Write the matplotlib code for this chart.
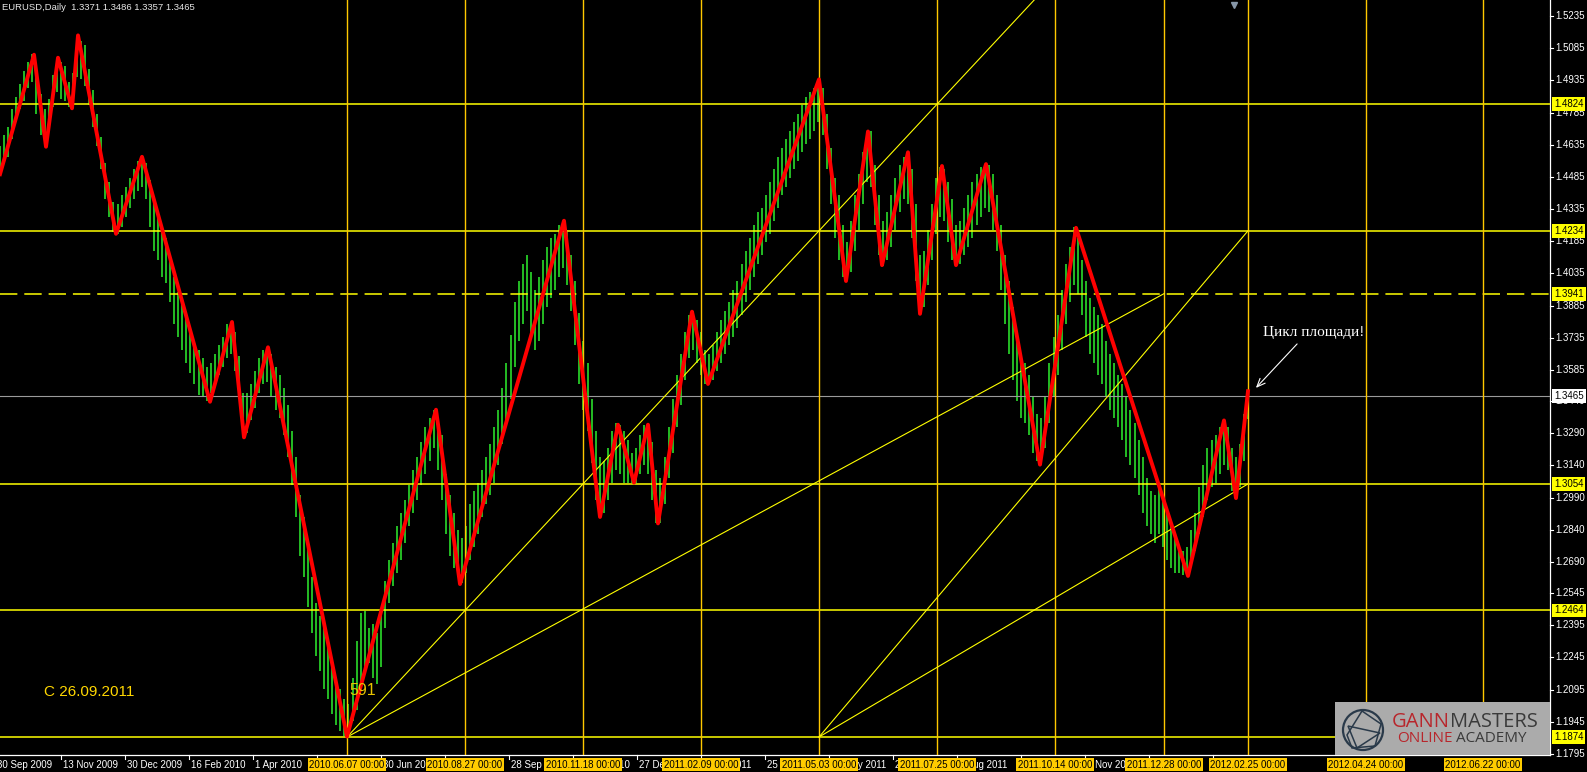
import numpy as np
import matplotlib
matplotlib.use("Agg")
import matplotlib.pyplot as plt
from matplotlib.patches import Rectangle, Circle, Polygon

plt.rcParams['lines.scale_dashes'] = False
plt.rcParams['font.family'] = ['Liberation Sans', 'DejaVu Sans']

# ---------------- data ----------------
SYMBOL_TEXT = "EURUSD,Daily  1.3371 1.3486 1.3357 1.3465"
FIRST_BAR, LAST_BAR = 0, 624          # bar index of first / last drawn bar

HIGHS = [
    1.463, 1.468, 1.472, 1.480, 1.486, 1.492, 1.498, 1.502, 1.506, 1.500,
    1.487, 1.480, 1.485, 1.496, 1.504, 1.502, 1.500, 1.493, 1.497, 1.514,
    1.512, 1.510, 1.499, 1.489, 1.478, 1.467, 1.455, 1.446, 1.437, 1.436,
    1.440, 1.444, 1.448, 1.452, 1.456, 1.458, 1.455, 1.447, 1.436, 1.430,
    1.424, 1.420, 1.412, 1.402, 1.395, 1.392, 1.385, 1.378, 1.372, 1.368,
    1.364, 1.360, 1.362, 1.366, 1.370, 1.374, 1.380, 1.381, 1.376, 1.365,
    1.348, 1.348, 1.352, 1.358, 1.364, 1.368, 1.369, 1.366, 1.360, 1.356,
    1.350, 1.342, 1.330, 1.318, 1.300, 1.290, 1.276, 1.262, 1.250, 1.244,
    1.238, 1.230, 1.222, 1.215, 1.210, 1.205, 1.203, 1.215, 1.232, 1.245,
    1.246, 1.238, 1.240, 1.236, 1.246, 1.260, 1.270, 1.278, 1.286, 1.292,
    1.298, 1.305, 1.312, 1.318, 1.325, 1.332, 1.336, 1.340, 1.336, 1.328,
    1.310, 1.300, 1.292, 1.284, 1.280, 1.286, 1.296, 1.302, 1.306, 1.312,
    1.318, 1.324, 1.332, 1.340, 1.350, 1.362, 1.375, 1.390, 1.400, 1.408,
    1.412, 1.404, 1.396, 1.402, 1.410, 1.416, 1.420, 1.422, 1.426, 1.428,
    1.424, 1.412, 1.400, 1.385, 1.372, 1.362, 1.345, 1.330, 1.318, 1.316,
    1.322, 1.330, 1.334, 1.333, 1.330, 1.326, 1.320, 1.322, 1.328, 1.333,
    1.333, 1.325, 1.312, 1.308, 1.318, 1.332, 1.345, 1.356, 1.366, 1.376,
    1.384, 1.386, 1.382, 1.376, 1.368, 1.366, 1.370, 1.376, 1.382, 1.386,
    1.390, 1.396, 1.400, 1.408, 1.414, 1.420, 1.426, 1.432, 1.434, 1.440,
    1.446, 1.452, 1.458, 1.462, 1.466, 1.470, 1.474, 1.478, 1.482, 1.486,
    1.488, 1.490, 1.494, 1.490, 1.478, 1.462, 1.448, 1.440, 1.426, 1.418,
    1.428, 1.440, 1.450, 1.460, 1.468, 1.470, 1.454, 1.440, 1.428, 1.432,
    1.440, 1.448, 1.454, 1.458, 1.460, 1.452, 1.436, 1.412, 1.414, 1.424,
    1.436, 1.448, 1.453, 1.452, 1.446, 1.438, 1.426, 1.428, 1.434, 1.440,
    1.446, 1.450, 1.453, 1.454, 1.454, 1.450, 1.440, 1.426, 1.412, 1.400,
    1.388, 1.376, 1.366, 1.362, 1.356, 1.346, 1.338, 1.336, 1.346, 1.362,
    1.374, 1.384, 1.396, 1.408, 1.416, 1.425, 1.420, 1.410, 1.400, 1.392,
    1.388, 1.384, 1.380, 1.372, 1.366, 1.362, 1.356, 1.352, 1.346, 1.340,
    1.334, 1.326, 1.318, 1.308, 1.302, 1.300, 1.304, 1.300, 1.292, 1.286,
    1.280, 1.276, 1.274, 1.276, 1.284, 1.292, 1.304, 1.314, 1.322, 1.326,
    1.328, 1.332, 1.335, 1.332, 1.322, 1.318, 1.324, 1.338, 1.3486,
]
LOWS = [
    1.450, 1.455, 1.458, 1.466, 1.474, 1.480, 1.484, 1.490, 1.493, 1.478,
    1.468, 1.463, 1.470, 1.481, 1.488, 1.485, 1.484, 1.481, 1.481, 1.495,
    1.494, 1.491, 1.482, 1.472, 1.463, 1.452, 1.438, 1.430, 1.423, 1.422,
    1.425, 1.430, 1.434, 1.438, 1.442, 1.444, 1.438, 1.425, 1.414, 1.410,
    1.402, 1.399, 1.390, 1.380, 1.374, 1.368, 1.362, 1.357, 1.352, 1.347,
    1.346, 1.344, 1.348, 1.351, 1.356, 1.360, 1.364, 1.366, 1.358, 1.345,
    1.328, 1.329, 1.335, 1.341, 1.348, 1.352, 1.353, 1.346, 1.340, 1.336,
    1.328, 1.318, 1.305, 1.290, 1.272, 1.262, 1.248, 1.236, 1.225, 1.218,
    1.210, 1.205, 1.198, 1.193, 1.190, 1.188, 1.1876, 1.195, 1.200, 1.210,
    1.218, 1.222, 1.215, 1.212, 1.220, 1.238, 1.250, 1.258, 1.264, 1.270,
    1.278, 1.286, 1.292, 1.298, 1.305, 1.310, 1.316, 1.322, 1.312, 1.298,
    1.282, 1.272, 1.266, 1.262, 1.259, 1.264, 1.270, 1.276, 1.282, 1.290,
    1.296, 1.300, 1.306, 1.314, 1.324, 1.335, 1.345, 1.360, 1.372, 1.380,
    1.386, 1.376, 1.368, 1.372, 1.380, 1.388, 1.392, 1.396, 1.402, 1.406,
    1.398, 1.386, 1.370, 1.352, 1.340, 1.330, 1.315, 1.298, 1.290, 1.292,
    1.298, 1.306, 1.312, 1.310, 1.306, 1.306, 1.306, 1.306, 1.310, 1.314,
    1.310, 1.298, 1.287, 1.287, 1.296, 1.308, 1.320, 1.332, 1.342, 1.354,
    1.364, 1.368, 1.362, 1.356, 1.352, 1.352, 1.354, 1.358, 1.362, 1.366,
    1.370, 1.374, 1.378, 1.384, 1.390, 1.396, 1.402, 1.408, 1.412, 1.418,
    1.422, 1.428, 1.434, 1.440, 1.444, 1.448, 1.452, 1.456, 1.460, 1.464,
    1.466, 1.470, 1.474, 1.468, 1.452, 1.436, 1.420, 1.410, 1.402, 1.400,
    1.404, 1.414, 1.424, 1.436, 1.446, 1.444, 1.426, 1.412, 1.407, 1.410,
    1.416, 1.424, 1.432, 1.438, 1.436, 1.420, 1.400, 1.385, 1.388, 1.398,
    1.410, 1.422, 1.430, 1.428, 1.418, 1.410, 1.407, 1.408, 1.412, 1.416,
    1.420, 1.426, 1.430, 1.434, 1.432, 1.424, 1.414, 1.396, 1.380, 1.366,
    1.354, 1.344, 1.336, 1.334, 1.328, 1.320, 1.316, 1.3144, 1.322, 1.334,
    1.346, 1.356, 1.368, 1.380, 1.390, 1.398, 1.394, 1.384, 1.374, 1.366,
    1.362, 1.356, 1.352, 1.346, 1.340, 1.336, 1.332, 1.326, 1.318, 1.314,
    1.308, 1.300, 1.292, 1.286, 1.282, 1.278, 1.282, 1.276, 1.270, 1.266,
    1.264, 1.264, 1.263, 1.2625, 1.268, 1.274, 1.282, 1.290, 1.298, 1.304,
    1.306, 1.310, 1.314, 1.312, 1.302, 1.299, 1.304, 1.316, 1.3357,
]

# ZigZag pivots (bar index, price)
ZZ_X = [0, 17, 23, 29, 36, 39, 58, 71, 105, 116, 122, 134, 173.5, 218, 230,
        282, 300, 309, 317, 324, 329, 346, 354, 409.5, 423, 434, 441, 454,
        460, 471, 478, 493, 520, 538, 594, 612, 618, 624]
ZZ_P = [1.4498, 1.5055, 1.4626, 1.5041, 1.4805, 1.5145, 1.4220, 1.4579,
        1.3437, 1.3809, 1.3271, 1.3691, 1.1876, 1.3400, 1.2587, 1.4281,
        1.2900, 1.3330, 1.3060, 1.3330, 1.2870, 1.3857, 1.3520, 1.4940,
        1.4000, 1.4697, 1.4074, 1.4600, 1.3847, 1.4536, 1.4074, 1.4545,
        1.3144, 1.4248, 1.2625, 1.3350, 1.2988, 1.3486]

SOLID_LEVELS = [1.4824, 1.4234, 1.3054, 1.2464, 1.1874]
DASHED_LEVEL = 1.3941
LAST_PRICE = 1.3465

CYCLE_X = [173.5, 232.5, 291.5, 350.5, 409.5, 468.5, 527.5, 582, 624, 683, 741.5]
CYCLE_LABELS = ['2010.06.07 00:00', '2010.08.27 00:00', '2010.11.18 00:00',
                '2011.02.09 00:00', '2011.05.03 00:00', '2011.07.25 00:00',
                '2011.10.14 00:00', '2011.12.28 00:00', '2012.02.25 00:00',
                '2012.04.24 00:00', '2012.06.22 00:00']

# fan lines: (from cycle, from price, through cycle, through price, extend)
FAN_LINES = [(0, 1.1874, 1, 1.2464, True),
             (0, 1.1874, 7, 1.3941, False),
             (4, 1.1874, 8, 1.4234, False),
             (4, 1.1874, 8, 1.3054, False)]

# date scale labels that stay (at least partly) visible next to the cycle boxes
DATE_TICKS = [-2.5, 30.5, 62.5, 94.5, 126.5, 190.5, 254.5, 286.5,
              318.5, 350.5, 382.5, 414.5, 446.5, 478.5, 542.5]
DATE_LABELS = ['30 Sep 2009', '13 Nov 2009', '30 Dec 2009', '16 Feb 2010', '1 Apr 2010',
               '30 Jun 2010', '28 Sep 2010', '10 Nov 2010',
               '27 Dec 2010', '9 Feb 2011', '25 Mar 2011', '12 May 2011', '23 Jun 2011',
               '5 Aug 2011', '1 Nov 2011']
ALL_TICKS = [-2.5, 30.5, 62.5, 94.5, 126.5, 158.5, 190.5, 222.5, 254.5, 286.5,
             318.5, 350.5, 382.5, 414.5, 446.5, 478.5, 510.5, 542.5, 574.5, 606.5]

PRICE_TICKS = [1.5235, 1.5085, 1.4935, 1.4785, 1.4635, 1.4485, 1.4335, 1.4185,
               1.4035, 1.3885, 1.3735, 1.3585, 1.3440, 1.3290, 1.3140, 1.2990,
               1.2840, 1.2690, 1.2545, 1.2395, 1.2245, 1.2095, 1.1945, 1.1795]

ARROW_OBJ = (617, 1.5286)

# ---------------- layout ----------------
W, H = 1587, 772
AXW, AXH = 1550, 755
PX_PER_PRICE = 2145.0
Y_TOP = 1.5310
Y_BOT = Y_TOP - AXH / PX_PER_PRICE

fig = plt.figure(figsize=(W / 100, H / 100), dpi=100, facecolor='black')
ax = fig.add_axes([0, (H - AXH) / H, AXW / W, AXH / H])
ax.set_facecolor('black')
ax.set_xlim(0, AXW / 2)
ax.set_ylim(Y_BOT, Y_TOP)
ax.set_xticks([])
ax.set_yticks([])
for s in ['top', 'left']:
    ax.spines[s].set_visible(False)
for s in ['right', 'bottom']:
    ax.spines[s].set_color('white')
    ax.spines[s].set_linewidth(0.9)

# price bars
bar_x = np.linspace(FIRST_BAR, LAST_BAR, len(HIGHS))
ax.vlines(bar_x, LOWS, HIGHS, colors='#2BDC2B', lw=1.2, zorder=2)

# horizontal levels
for lv in SOLID_LEVELS:
    ax.axhline(lv, color='#FFFF00', lw=1.1, zorder=3)
ax.axhline(DASHED_LEVEL, color='#FFFF00', lw=1.1, ls=(0, (12.5, 5)), zorder=3)
ax.axhline(LAST_PRICE, color='#9A9A9A', lw=0.8, zorder=3)

# cycle verticals
for cx in CYCLE_X:
    ax.axvline(cx, color='#FFC800', lw=1.0, zorder=3)

# fan lines
for i0, p0, i1, p1, ext in FAN_LINES:
    x0, x1 = CYCLE_X[i0], CYCLE_X[i1]
    if ext:
        slope = (p1 - p0) / (x1 - x0)
        x1 = x0 + (Y_TOP + 0.01 - p0) / slope
        p1 = Y_TOP + 0.01
    ax.plot([x0, x1], [p0, p1], color='#FFFF00', lw=0.8, zorder=3)

# zigzag
ax.plot(ZZ_X, ZZ_P, color='#FF0000', lw=2.8, zorder=4, solid_joinstyle='round')

# small arrow object at top
ax.plot([ARROW_OBJ[0]], [ARROW_OBJ[1]], marker='v', ms=5, color='#8797A8',
        zorder=5, clip_on=False)

# texts inside chart
ax.text(2 / AXW, 1 - 7 / AXH, SYMBOL_TEXT, transform=ax.transAxes, fontsize=6.8,
        color='#E6E6E6', ha='left', va='center', zorder=6)
ax.text(181.5, 1.2093, '591', color='#E8C400', fontsize=11.5, ha='center',
        va='center', zorder=6)
ax.text(22, 1.2084, 'С 26.09.2011', color='#FFD700', fontsize=11, ha='left',
        va='center', zorder=6)
ax.text(631.5, 1.3762, 'Цикл площади!', family=['Liberation Serif', 'DejaVu Serif'],
        fontsize=11, color='white', ha='left', va='center', zorder=6)
ax.annotate('', xy=(627, 1.3492), xytext=(649.5, 1.3716),
            arrowprops=dict(arrowstyle='->,head_length=0.6,head_width=0.25',
                            color='white', lw=0.8), zorder=6)

# right price axis
ty = ax.get_yaxis_transform()
for p in PRICE_TICKS:
    ax.text(1 + 5 / AXW, p, f'{p:.4f}', transform=ty, ha='left', va='center',
            fontsize=7, color='white', clip_on=False, zorder=5)
    ax.plot([1, 1 + 3 / AXW], [p, p], transform=ty, color='white', lw=0.8,
            clip_on=False, zorder=5)
for lv in SOLID_LEVELS + [DASHED_LEVEL]:
    ax.text(1 + 4 / AXW, lv, f'{lv:.4f}', transform=ty, ha='left', va='center',
            fontsize=7, color='black', clip_on=False, zorder=7,
            bbox=dict(boxstyle='square,pad=0.2', fc='#FFFF00', ec='none'))
ax.text(1 + 4 / AXW, LAST_PRICE, f'{LAST_PRICE:.4f}', transform=ty, ha='left',
        va='center', fontsize=7, color='black', clip_on=False, zorder=7,
        bbox=dict(boxstyle='square,pad=0.2', fc='white', ec='none'))

# bottom date axis
tx = ax.get_xaxis_transform()
for x in ALL_TICKS:
    ax.plot([x, x], [0, -4 / AXH], transform=tx, color='white', lw=0.8,
            clip_on=False, zorder=5)
for x, lab in zip(DATE_TICKS, DATE_LABELS):
    ax.text(x + 1.0, -9.5 / AXH, lab, transform=tx, ha='left', va='center',
            fontsize=7, color='white', clip_on=False, zorder=5)
for cx, lab in zip(CYCLE_X, CYCLE_LABELS):
    ax.text(cx, -9.5 / AXH, lab, transform=tx, ha='center', va='center',
            fontsize=7, color='black', clip_on=False, zorder=7,
            bbox=dict(boxstyle='square,pad=0.15', fc='#FFCC00', ec='none'))

# watermark
wx0, wy_top, ww, wh = 1335, 702, 215, 53
wax = fig.add_axes([wx0 / W, (H - wy_top - wh) / H, ww / W, wh / H])
wax.set_xlim(0, ww)
wax.set_ylim(wh, 0)
wax.axis('off')
wax.add_patch(Rectangle((0, 0), ww, wh, fc='#ABABAB', ec='none'))
wax.add_patch(Circle((28, 28), 20, fill=False, ec='#2A3A4A', lw=1.6))
wax.add_patch(Polygon([(12, 33), (27, 9), (46, 22), (40, 44), (17, 46)],
                      closed=True, fill=False, ec='#2A3A4A', lw=1.1))
wax.add_patch(Polygon([(13, 24), (45, 31), (22, 46)], closed=True, fill=False,
                      ec='#2A3A4A', lw=1.1))
red, dark = '#B8262C', '#3A3A3A'
renderer = fig.canvas.get_renderer()
t1 = wax.text(57, 20, 'GANN', fontsize=14.5, color=red, family=['Open Sans', 'DejaVu Sans'],
              ha='left', va='center')
w1 = t1.get_window_extent(renderer=renderer).width
wax.text(57 + w1, 20, 'MASTERS', fontsize=14.5, color=dark,
         family=['Open Sans', 'DejaVu Sans'], ha='left', va='center')
t2 = wax.text(62, 37, 'ONLINE', fontsize=11, color=red, family=['Open Sans', 'DejaVu Sans'],
              ha='left', va='center')
w2 = t2.get_window_extent(renderer=renderer).width
wax.text(62 + w2 + 4, 37, 'ACADEMY', fontsize=11, color=dark,
         family=['Open Sans', 'DejaVu Sans'], ha='left', va='center')

fig.savefig('out.png', dpi=100, facecolor='black')
